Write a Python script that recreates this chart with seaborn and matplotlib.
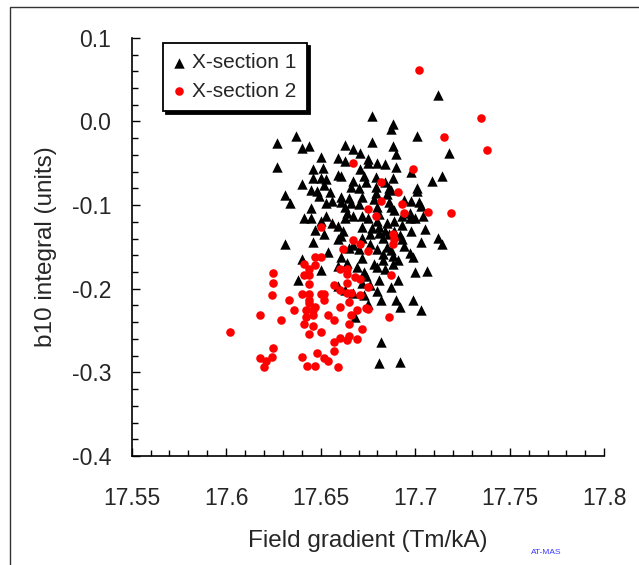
import numpy as np
import pandas as pd
import matplotlib
matplotlib.use("Agg")
import matplotlib.pyplot as plt
import seaborn as sns
from matplotlib.ticker import MultipleLocator, FuncFormatter
from matplotlib.patches import Rectangle

# ---------------------------------------------------------------------------
# data (field gradient Tm/kA, b10 integral units)
# ---------------------------------------------------------------------------
SEC1_X = [17.712, 17.677, 17.688, 17.687, 17.637, 17.701, 17.627, 17.677, 17.640, 17.644,
          17.663, 17.688, 17.667, 17.671, 17.690, 17.718, 17.650, 17.659, 17.675, 17.663,
          17.627, 17.680, 17.684, 17.675, 17.690, 17.646, 17.651, 17.671, 17.698, 17.659,
          17.661, 17.646, 17.650, 17.653, 17.673, 17.679, 17.688, 17.714, 17.709, 17.667,
          17.674, 17.684, 17.640, 17.652, 17.666, 17.679, 17.686, 17.701, 17.645, 17.648,
          17.687, 17.631, 17.649, 17.655, 17.679, 17.685, 17.661, 17.665, 17.672, 17.678,
          17.701, 17.634, 17.656, 17.661, 17.666, 17.670, 17.686, 17.698, 17.702, 17.694,
          17.663, 17.680, 17.687, 17.703, 17.645, 17.689, 17.697, 17.641, 17.645, 17.653,
          17.663, 17.675, 17.681, 17.693, 17.697, 17.704, 17.700, 17.650, 17.656, 17.680,
          17.685, 17.689, 17.659, 17.672, 17.677, 17.681, 17.693, 17.647, 17.662, 17.705,
          17.681, 17.684, 17.689, 17.652, 17.661, 17.676, 17.692, 17.659, 17.683, 17.712,
          17.646, 17.693, 17.631, 17.703, 17.714, 17.667, 17.676, 17.685, 17.694, 17.670,
          17.680, 17.687, 17.654, 17.697, 17.683, 17.661, 17.672, 17.688, 17.699, 17.640,
          17.683, 17.664, 17.678, 17.688, 17.659, 17.669, 17.684, 17.650, 17.673, 17.700,
          17.706, 17.674, 17.638, 17.681, 17.691, 17.672, 17.676, 17.659, 17.687, 17.663,
          17.680, 17.667, 17.673, 17.682, 17.690, 17.699, 17.675, 17.692, 17.703, 17.668,
          17.682, 17.681, 17.692, 17.667, 17.670, 17.672, 17.686, 17.698, 17.665, 17.680,
          17.672, 17.691, 17.664, 17.653]
SEC1_Y = [0.032, 0.007, -0.003, -0.009, -0.017, -0.017, -0.026, -0.024, -0.032, -0.029,
          -0.028, -0.029, -0.033, -0.038, -0.039, -0.038, -0.042, -0.044, -0.045, -0.047,
          -0.054, -0.050, -0.051, -0.050, -0.054, -0.057, -0.056, -0.057, -0.061, -0.064,
          -0.065, -0.068, -0.068, -0.069, -0.065, -0.066, -0.068, -0.065, -0.071, -0.071,
          -0.072, -0.072, -0.075, -0.076, -0.078, -0.078, -0.079, -0.080, -0.082, -0.083,
          -0.082, -0.088, -0.089, -0.084, -0.085, -0.087, -0.090, -0.091, -0.090, -0.093,
          -0.083, -0.098, -0.095, -0.096, -0.097, -0.099, -0.096, -0.095, -0.096, -0.094,
          -0.102, -0.102, -0.102, -0.101, -0.104, -0.106, -0.109, -0.115, -0.115, -0.113,
          -0.115, -0.116, -0.111, -0.113, -0.115, -0.113, -0.115, -0.119, -0.121, -0.119,
          -0.121, -0.119, -0.125, -0.126, -0.127, -0.126, -0.124, -0.130, -0.131, -0.128,
          -0.133, -0.131, -0.131, -0.135, -0.137, -0.135, -0.136, -0.140, -0.139, -0.139,
          -0.144, -0.141, -0.147, -0.144, -0.146, -0.148, -0.147, -0.150, -0.149, -0.152,
          -0.152, -0.154, -0.156, -0.157, -0.159, -0.162, -0.163, -0.161, -0.162, -0.164,
          -0.166, -0.169, -0.170, -0.171, -0.173, -0.174, -0.177, -0.178, -0.180, -0.180,
          -0.179, -0.185, -0.189, -0.189, -0.190, -0.193, -0.195, -0.197, -0.198, -0.201,
          -0.203, -0.205, -0.208, -0.214, -0.213, -0.214, -0.218, -0.222, -0.225, -0.234,
          -0.264, -0.289, -0.288, -0.113, -0.079, -0.113, -0.135, -0.131, -0.151, -0.174,
          -0.139, -0.166, -0.109, -0.098]

SEC2_X = [17.702, 17.735, 17.715, 17.738, 17.667, 17.699, 17.682, 17.691, 17.682, 17.693,
          17.675, 17.707, 17.719, 17.694, 17.679, 17.650, 17.688, 17.689, 17.667, 17.671,
          17.688, 17.662, 17.675, 17.647, 17.650, 17.641, 17.647, 17.644, 17.660, 17.664,
          17.625, 17.641, 17.644, 17.664, 17.668, 17.671, 17.687, 17.625, 17.664, 17.644,
          17.657, 17.675, 17.624, 17.640, 17.644, 17.650, 17.652, 17.660, 17.664, 17.666,
          17.671, 17.633, 17.644, 17.652, 17.665, 17.644, 17.647, 17.660, 17.674, 17.675,
          17.636, 17.642, 17.646, 17.669, 17.618, 17.654, 17.666, 17.642, 17.646, 17.686,
          17.629, 17.657, 17.641, 17.646, 17.665, 17.672, 17.602, 17.650, 17.644, 17.665,
          17.660, 17.664, 17.669, 17.657, 17.625, 17.657, 17.648, 17.618, 17.624, 17.621,
          17.640, 17.652, 17.654, 17.620, 17.643, 17.647, 17.659]
SEC2_Y = [0.061, 0.004, -0.018, -0.034, -0.050, -0.057, -0.072, -0.084, -0.095, -0.099,
          -0.105, -0.108, -0.110, -0.109, -0.113, -0.126, -0.134, -0.141, -0.142, -0.147,
          -0.147, -0.153, -0.155, -0.162, -0.162, -0.171, -0.172, -0.176, -0.176, -0.176,
          -0.181, -0.184, -0.184, -0.182, -0.186, -0.188, -0.184, -0.193, -0.193, -0.194,
          -0.195, -0.198, -0.208, -0.206, -0.206, -0.206, -0.206, -0.201, -0.205, -0.205,
          -0.208, -0.214, -0.213, -0.214, -0.216, -0.217, -0.222, -0.222, -0.223, -0.224,
          -0.226, -0.226, -0.226, -0.225, -0.232, -0.232, -0.232, -0.234, -0.232, -0.234,
          -0.238, -0.238, -0.242, -0.244, -0.242, -0.248, -0.252, -0.252, -0.254, -0.256,
          -0.259, -0.261, -0.260, -0.264, -0.271, -0.274, -0.277, -0.283, -0.282, -0.286,
          -0.282, -0.283, -0.286, -0.294, -0.293, -0.293, -0.294]

LABELS = ["X-section 1", "X-section 2"]
X_TICKS = [17.55, 17.6, 17.65, 17.7, 17.75, 17.8]
Y_TICKS = [0.1, 0.0, -0.1, -0.2, -0.3, -0.4]

# ---------------------------------------------------------------------------
# style
# ---------------------------------------------------------------------------
sns.set_theme(style="white")
plt.rcParams["font.family"] = ["Liberation Sans", "DejaVu Sans"]

fig = plt.figure(figsize=(6.39, 5.65), dpi=100)
ax = fig.add_axes([0.206, 0.193, 0.7397, 0.740])

sec1 = pd.DataFrame({"x": SEC1_X, "y": SEC1_Y})
sec2 = pd.DataFrame({"x": SEC2_X, "y": SEC2_Y})

sns.scatterplot(data=sec1, x="x", y="y", marker="^", s=56, color="black",
                edgecolor="black", linewidth=0, label=LABELS[0], ax=ax, zorder=3)
sns.scatterplot(data=sec2, x="x", y="y", marker="o", s=38, color="#ff0000",
                edgecolor="#ff0000", linewidth=0, label=LABELS[1], ax=ax, zorder=4)

ax.set_xlim(X_TICKS[0], X_TICKS[-1])
ax.set_ylim(min(Y_TICKS), max(Y_TICKS))
ax.set_xticks(X_TICKS)
ax.set_yticks(Y_TICKS)
ax.xaxis.set_minor_locator(MultipleLocator(0.01))
ax.yaxis.set_minor_locator(MultipleLocator(0.02))
ax.xaxis.set_major_formatter(FuncFormatter(lambda v, p: f"{v:g}"))
ax.yaxis.set_major_formatter(FuncFormatter(lambda v, p: f"{v:.1f}".replace("-0.0", "0.0")))

for side in ["top", "right"]:
    ax.spines[side].set_visible(False)
for side in ["left", "bottom"]:
    ax.spines[side].set_color("black")
    ax.spines[side].set_linewidth(1.2)

ax.tick_params(axis="both", which="both", direction="in", color="black", width=1)
ax.tick_params(axis="both", which="major", length=6, labelsize=16.5)
ax.tick_params(axis="both", which="minor", length=4)
ax.tick_params(axis="x", which="major", pad=22, bottom=True)
ax.tick_params(axis="y", which="major", pad=14.5, left=True)
ax.tick_params(axis="x", which="minor", bottom=True)
ax.tick_params(axis="y", which="minor", left=True)

ax.set_xlabel("Field gradient (Tm/kA)", fontsize=17.5)
ax.set_ylabel("b10 integral (units)", fontsize=17.5)
ax.xaxis.set_label_coords(0.5, -0.203)
ax.xaxis.label.set_va("center")
ax.yaxis.set_label_coords(-0.182, 0.5)
ax.yaxis.label.set_va("center")

leg = ax.legend(loc="upper left", bbox_to_anchor=(0.066, 0.988), borderaxespad=0,
                fontsize=15, frameon=True, fancybox=False,
                shadow={"color": "black", "alpha": 1},
                handlelength=0.6, handletextpad=0.3, borderpad=0.5, labelspacing=0.45)
leg.get_frame().set_edgecolor("black")
leg.get_frame().set_linewidth(1.3)
leg.get_frame().set_alpha(1)

fig.text(546 / 639, 1 - 553 / 565, "AT-MAS", color="#3a3aff", fontsize=6,
         ha="center", va="center")

# thin outer frame (only left and top edges fall inside the picture)
fig.patches.append(Rectangle((10 / 639, -0.2), 1.5, 1.2 - 6.5 / 565,
                             transform=fig.transFigure, fill=False,
                             edgecolor="#333333", linewidth=1, clip_on=False))

fig.savefig("out.png", dpi=100)
